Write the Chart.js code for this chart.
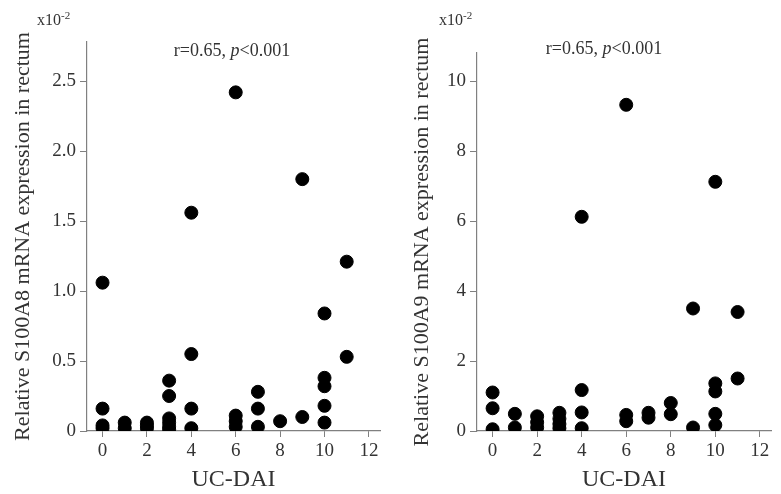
<!DOCTYPE html>
<html>
<head>
<meta charset="utf-8">
<script src="https://cdn.jsdelivr.net/npm/chart.js@4.4.1/dist/chart.umd.min.js"></script>
<style>
  body { margin: 0; background: #fff; }
  #wrap { position: relative; width: 781px; height: 494px; font-family: "Liberation Serif", "Times New Roman", serif; color: #333; }
  canvas { position: absolute; top: 0; }
  .note { position: absolute; font-size: 18px; white-space: nowrap; line-height: 1; }
  .scale { position: absolute; font-size: 16px; white-space: nowrap; line-height: 1; }
  .scale sup { font-size: 11px; vertical-align: 6px; }
</style>
</head>
<body>
<div id="wrap">
  <canvas id="chartA8" width="390" height="494" style="left:0"></canvas>
  <canvas id="chartA9" width="391" height="494" style="left:390px"></canvas>
  <div class="scale" style="left:37px; top:10px;">x10<sup>-2</sup></div>
  <div class="scale" style="left:439px; top:10px;">x10<sup>-2</sup></div>
  <div class="note" style="left:232px; top:41px; transform:translateX(-50%);">r=0.65, <i>p</i>&lt;0.001</div>
  <div class="note" style="left:604px; top:39px; transform:translateX(-50%);">r=0.65, <i>p</i>&lt;0.001</div>
</div>
<script>
// UC-DAI score of each sample and the expression values (x10^-2)
const a8X = [0, 0, 0, 0, 1, 1, 2, 2, 2, 3, 3, 3, 3, 3, 3, 4, 4, 4, 4, 6, 6, 6, 6, 7, 7, 7, 8, 9, 9, 10, 10, 10, 10, 10, 11, 11];
const a8Y = [1.06, 0.16, 0.04, 0.02, 0.06, 0.02, 0.06, 0.04, 0.02, 0.36, 0.25, 0.09, 0.06, 0.03, 0.01, 1.56, 0.55, 0.16, 0.02,
             2.42, 0.11, 0.07, 0.03, 0.28, 0.16, 0.03, 0.07, 1.80, 0.10, 0.84, 0.38, 0.32, 0.18, 0.06, 1.21, 0.53];

const a9X = [0, 0, 0, 1, 1, 2, 2, 2, 3, 3, 3, 3, 4, 4, 4, 4, 6, 6, 6, 7, 7, 8, 8, 9, 9, 10, 10, 10, 10, 10, 11, 11];
const a9Y = [1.10, 0.65, 0.05, 0.49, 0.10, 0.42, 0.25, 0.10, 0.52, 0.35, 0.20, 0.08, 6.12, 1.17, 0.53, 0.08,
             9.32, 0.46, 0.28, 0.52, 0.38, 0.80, 0.48, 3.50, 0.10, 7.12, 1.36, 1.13, 0.49, 0.17, 3.40, 1.50];

const xTicks = [0, 2, 4, 6, 8, 10, 12];
const a8Ticks = [0, 0.5, 1.0, 1.5, 2.0, 2.5];
const a9Ticks = [0, 2, 4, 6, 8, 10];

const serif = '"Liberation Serif", "Times New Roman", serif';
const axisColor = '#808080';
const textColor = '#333';

function makeChart(id, xs, ys, yMax, yTicks, fmt, yTitle, topPad, titlePad) {
    let points = xs.map((x, i) => ({x: x, y: ys[i]}));
    return new Chart(document.getElementById(id), {
        type: 'scatter',
        data: {
            datasets: [{
                data: points,
                backgroundColor: '#000',
                borderColor: '#000',
                pointRadius: 6.5,
                pointHoverRadius: 6.5,
                clip: {left: 10, top: 10, right: 10, bottom: 0}
            }]
        },
        options: {
            responsive: false,
            animation: false,
            layout: { padding: { left: 0, right: 10, top: topPad, bottom: 0 } },
            plugins: { legend: { display: false }, tooltip: { enabled: false } },
            scales: {
                x: {
                    type: 'linear',
                    min: -0.7,
                    max: 12.5,
                    afterBuildTicks: s => { s.ticks = xTicks.map(v => ({value: v})); },
                    afterFit: s => { s.height = 63; },
                    grid: { drawOnChartArea: false, drawTicks: true, tickLength: 6, color: axisColor },
                    border: { display: true, color: axisColor, width: 1.2 },
                    ticks: { color: textColor, font: { family: serif, size: 19 }, padding: 3 },
                    title: {
                        display: true, text: 'UC-DAI', color: textColor,
                        font: { family: serif, size: 24, lineHeight: 1.2 },
                        padding: { top: 0, bottom: 0 }
                    }
                },
                y: {
                    min: 0,
                    max: yMax,
                    afterBuildTicks: s => { s.ticks = yTicks.map(v => ({value: v})); },
                    afterFit: s => { s.width = 87; },
                    grid: { drawOnChartArea: false, drawTicks: true, tickLength: 7, color: axisColor },
                    border: { display: true, color: axisColor, width: 1.2 },
                    ticks: { color: textColor, font: { family: serif, size: 19 }, padding: 4, callback: fmt },
                    title: {
                        display: true, text: yTitle, color: textColor,
                        font: { family: serif, size: 22, lineHeight: 1.2 },
                        padding: { top: titlePad + 1, bottom: 0 }
                    }
                }
            }
        }
    });
}

makeChart('chartA8', a8X, a8Y, 2.78, a8Ticks, v => v === 0 ? '0' : v.toFixed(1),
    'Relative S100A8 mRNA expression in rectum', 42, 9);
makeChart('chartA9', a9X, a9Y, 10.8, a9Ticks, v => String(v),
    'Relative S100A9 mRNA expression in rectum', 53, 18);
</script>
</body>
</html>
